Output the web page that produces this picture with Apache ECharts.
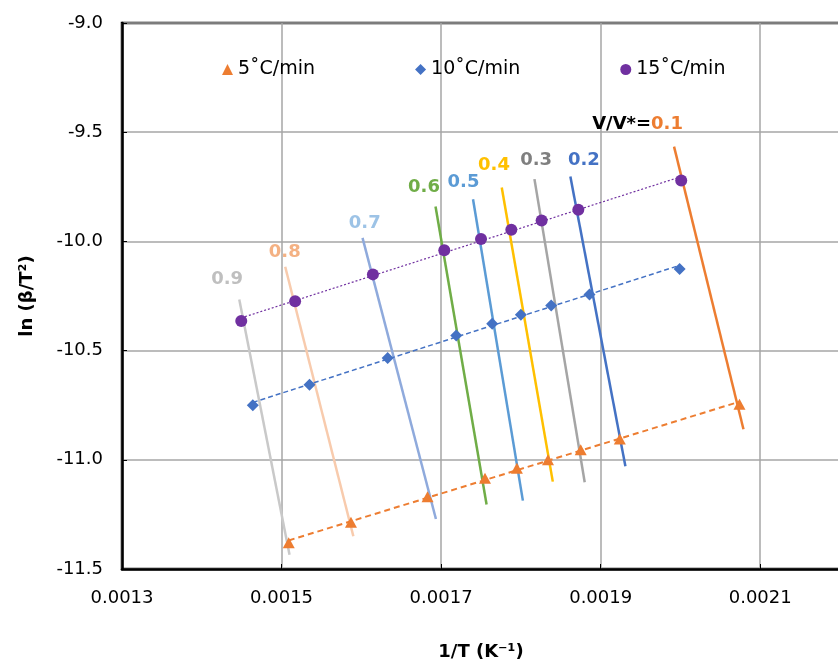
<!DOCTYPE html>
<html><head><meta charset="utf-8">
<script src="https://cdn.jsdelivr.net/npm/echarts@6/dist/echarts.min.js"></script>
<style>html,body{margin:0;padding:0;background:#fff}#c{width:838px;height:662px}</style>
</head><body><div id="c"></div>
<script>
// ---- data ----
const rateNames = ['5˚C/min', '10˚C/min', '15˚C/min'];
const x5  = [0.001509, 0.001587, 0.001683, 0.001755, 0.001795, 0.001834, 0.001875, 0.001924, 0.002074];
const y5  = [-11.380, -11.286, -11.169, -11.084, -11.039, -11.000, -10.954, -10.905, -10.746];
const x10 = [0.001464, 0.001535, 0.001633, 0.001719, 0.001764, 0.001800, 0.001838, 0.001886, 0.001999];
const y10 = [-10.750, -10.656, -10.534, -10.431, -10.377, -10.336, -10.294, -10.243, -10.126];
const x15 = [0.0014495, 0.001517, 0.0016145, 0.001704, 0.001750, 0.001788, 0.001826, 0.001872, 0.002001];
const y15 = [-10.365, -10.274, -10.151, -10.041, -9.989, -9.947, -9.904, -9.855, -9.721];

const convLabels = ['0.1', '0.2', '0.3', '0.4', '0.5', '0.6', '0.7', '0.8', '0.9'];
const isoTopX = [0.001992, 0.001862, 0.001817, 0.001776, 0.001740, 0.001693, 0.0016015, 0.0015046, 0.001447];
const isoTopY = [-9.566, -9.703, -9.715, -9.753, -9.807, -9.840, -9.984, -10.116, -10.266];
const isoBotX = [0.002079, 0.001931, 0.001880, 0.001840, 0.0018025, 0.001757, 0.0016935, 0.001590, 0.001510];
const isoBotY = [-10.860, -11.030, -11.103, -11.100, -11.187, -11.205, -11.271, -11.350, -11.435];

// ---- styles ----
const FONT = 'DejaVu Sans';
const isoColors = ['#ED7D31', '#4472C4', '#A5A5A5', '#FFC000', '#5B9BD5', '#70AD47', '#8FAADC', '#F8CBAD', '#C9C9C9'];
const labelColors = ['#ED7D31', '#4472C4', '#7F7F7F', '#FFC000', '#5B9BD5', '#70AD47', '#9DC3E6', '#F4B183', '#BFBFBF'];
const labelOffsets = [[-36.5, -22.5], [13.5, -16], [1.7, -19.3], [-7.7, -21.7], [-9.5, -16.8], [-11.5, -18.7], [2.2, -14.3], [-0.5, -14.3], [-12.2, -20]];

function pairs(xs, ys) { return xs.map((x, i) => [x, ys[i]]); }
function fit(xs, ys) {
  const n = xs.length;
  const mx = xs.reduce((a, b) => a + b, 0) / n;
  const my = ys.reduce((a, b) => a + b, 0) / n;
  let sxy = 0, sxx = 0;
  for (let i = 0; i < n; i++) { sxy += (xs[i] - mx) * (ys[i] - my); sxx += (xs[i] - mx) ** 2; }
  const b = sxy / sxx, a = my - b * mx;
  const x0 = Math.min(...xs), x1 = Math.max(...xs);
  return [[x0, a + b * x0], [x1, a + b * x1]];
}

const series = [];
// iso-conversion lines
convLabels.forEach((c, i) => {
  series.push({
    type: 'line', name: 'iso' + c, silent: true, symbol: 'none', z: 2,
    lineStyle: { color: isoColors[i], width: 2.5 },
    data: [[isoTopX[i], isoTopY[i]], [isoBotX[i], isoBotY[i]]]
  });
  series.push({
    type: 'scatter', name: 'lab' + c, silent: true, z: 5,
    symbol: 'circle', symbolSize: 1, itemStyle: { color: 'rgba(0,0,0,0)', opacity: 1 },
    label: {
      show: true, position: 'inside', offset: labelOffsets[i],
      fontFamily: FONT, fontWeight: 'bold', fontSize: 18, color: labelColors[i], opacity: 1,
      formatter: i === 0 ? '{k|V/V*=}{v|0.1}' : c,
      rich: i === 0 ? {
        k: { fontFamily: FONT, fontWeight: 'bold', fontSize: 18, color: '#000' },
        v: { fontFamily: FONT, fontWeight: 'bold', fontSize: 18, color: labelColors[0] }
      } : undefined
    },
    data: [[isoTopX[i], isoTopY[i]]]
  });
});
// trend lines
series.push({ type: 'line', name: 't5', silent: true, symbol: 'none', z: 3,
  lineStyle: { color: '#ED7D31', width: 2, type: [6, 4] }, data: fit(x5, y5) });
series.push({ type: 'line', name: 't10', silent: true, symbol: 'none', z: 3,
  lineStyle: { color: '#4472C4', width: 1.5, type: [5, 3] }, data: fit(x10, y10) });
series.push({ type: 'line', name: 't15', silent: true, symbol: 'none', z: 3,
  lineStyle: { color: '#7030A0', width: 1.2, type: [2, 2] }, data: fit(x15, y15) });
// markers
series.push({ type: 'scatter', name: rateNames[0], symbol: 'triangle', symbolSize: [12, 11], z: 6,
  itemStyle: { color: '#ED7D31', opacity: 1 }, data: pairs(x5, y5) });
series.push({ type: 'scatter', name: rateNames[1], symbol: 'diamond', symbolSize: 12, z: 6,
  itemStyle: { color: '#4472C4', opacity: 1 }, data: pairs(x10, y10) });
series.push({ type: 'scatter', name: rateNames[2], symbol: 'circle', symbolSize: 12, z: 6,
  itemStyle: { color: '#7030A0', opacity: 1 }, data: pairs(x15, y15) });

const chart = echarts.init(document.getElementById('c'), null, { renderer: 'canvas' });
chart.setOption({
  animation: false,
  backgroundColor: '#fff',
  grid: { left: 122, top: 23, right: -2, bottom: 93, outerBoundsMode: 'none', containLabel: false,
    show: true, borderColor: '#000', borderWidth: 2.5, backgroundColor: 'transparent' },
  legend: {
    left: 217, top: 55, itemGap: 100, itemWidth: 11, itemHeight: 11,
    textStyle: { fontFamily: FONT, fontSize: 19, color: '#000' },
    data: [
      { name: rateNames[0], icon: 'triangle', itemStyle: { color: '#ED7D31', opacity: 1 } },
      { name: rateNames[1], icon: 'diamond', itemStyle: { color: '#4472C4', opacity: 1 } },
      { name: rateNames[2], icon: 'circle', itemStyle: { color: '#7030A0', opacity: 1 } }
    ]
  },
  xAxis: {
    type: 'value', min: 0.0013, max: 0.0022, interval: 0.0002,
    name: '1/T (K⁻¹)', nameLocation: 'middle', nameGap: 74,
    nameTextStyle: { fontFamily: FONT, fontWeight: 'bold', fontSize: 18, color: '#000' },
    axisLine: { show: true, onZero: false, lineStyle: { color: '#000', width: 2.5 } },
    axisTick: { show: true, inside: true, length: 5, lineStyle: { color: '#000' } },
    axisLabel: { margin: 20, fontFamily: FONT, fontSize: 18, color: '#000', showMaxLabel: false,
      formatter: v => v.toFixed(4) },
    splitLine: { show: true, lineStyle: { color: '#A6A6A6', width: 1.5 } }
  },
  yAxis: {
    type: 'value', min: -11.5, max: -9, interval: 0.5,
    name: 'ln (β/T²)', nameLocation: 'middle', nameGap: 86, nameRotate: 90,
    nameTextStyle: { fontFamily: FONT, fontWeight: 'bold', fontSize: 18, color: '#000' },
    axisLine: { show: true, onZero: false, lineStyle: { color: '#000', width: 2.5 } },
    axisTick: { show: true, inside: true, length: 5, lineStyle: { color: '#000' } },
    axisLabel: { margin: 19, fontFamily: FONT, fontSize: 18, color: '#000', formatter: v => v.toFixed(1) },
    splitLine: { show: true, lineStyle: { color: '#A6A6A6', width: 1.5 } }
  },
  series: series
});
</script>
</body></html>
